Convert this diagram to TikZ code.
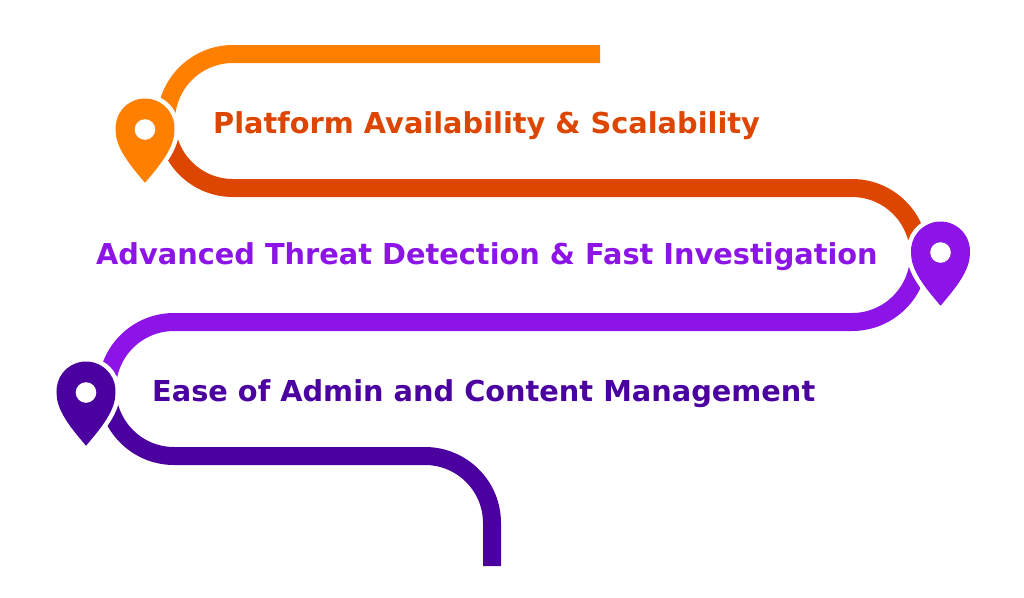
\documentclass[tikz,border=0pt]{standalone}
\usepackage{fontspec}
\setmainfont{DejaVu Sans}
\definecolor{cOrange}{HTML}{FF8000}
\definecolor{cRust}{HTML}{DC4600}
\definecolor{cViolet}{HTML}{8C14E6}
\definecolor{cIndigo}{HTML}{4B00A0}
\begin{document}
\begin{tikzpicture}[x=1pt,y=-1pt,
  road/.style={line width=18pt,line cap=butt},
  lbl/.style={font=\fontsize{28.8}{35}\selectfont\bfseries,inner sep=0pt,anchor=base west},
  pics/mappin/.style={code={
    \path[fill=white,draw=white,line width=10pt,line join=round]
      (0,54) .. controls (-8,44) and (-29,22) .. (174:29)
      arc[start angle=174,end angle=366,radius=29]
      .. controls (29,22) and (8,44) .. (0,54) -- cycle;
    \path[fill=#1,draw=#1,line width=1pt,line join=round]
      (0,54) .. controls (-8,44) and (-29,22) .. (174:29)
      arc[start angle=174,end angle=366,radius=29]
      .. controls (29,22) and (8,44) .. (0,54) -- cycle;
    \fill[white] (0,1.5) circle[radius=10.3];
  }}]
\useasboundingbox (0,0) rectangle (1024,597);
\fill[white] (0,0) rectangle (1024,597);
% road
\draw[road,cOrange] (600,54) -- (233,54) arc[start angle=270,end angle=180,radius=67];
\draw[road,cRust] (166,121) arc[start angle=180,end angle=90,radius=67] -- (852,188)
  arc[start angle=270,end angle=360,radius=67];
\draw[road,cViolet] (919,255) arc[start angle=0,end angle=90,radius=67] -- (174,322)
  arc[start angle=270,end angle=180,radius=67];
\draw[road,cIndigo] (107,389) arc[start angle=180,end angle=90,radius=67] -- (425,456)
  arc[start angle=270,end angle=360,radius=67] -- (492,566);
% pins
\pic (pinA) at (145,128) {mappin=cOrange};
\pic (pinB) at (940.5,251) {mappin=cViolet};
\pic (pinC) at (86,391) {mappin=cIndigo};
% labels
\node[lbl,text=cRust] (t1) at (213,133) {Platform Availability \& Scalability};
\node[lbl,text=cViolet] (t2) at (96,264) {Advanced Threat Detection \& Fast Investigation};
\node[lbl,text=cIndigo] (t3) at (152,401) {Ease of Admin and Content Management};
\end{tikzpicture}
\end{document}
